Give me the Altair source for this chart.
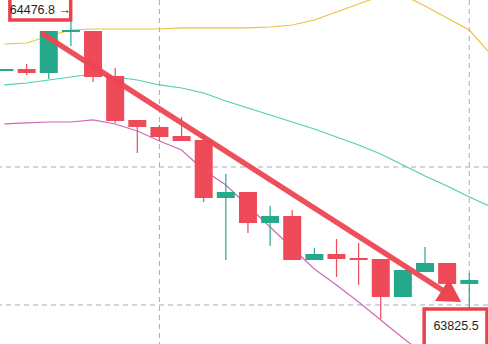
import altair as alt
import pandas as pd

# ---- candle data (price) ----
idx = list(range(22))
opens = [64308.7, 64313.0, 64304.3, 64393.4, 64395.6, 64297.8, 64202.2, 64187.0, 64167.4, 64158.7,
         64032.6, 64045.6, 63978.3, 63993.5, 63897.8, 63910.9, 63902.2, 63900.0, 63817.4, 63871.7,
         63891.3, 63845.7]
highs = [64313.0, 64323.9, 64395.6, 64441.3, 64395.6, 64315.2, 64202.2, 64191.3, 64208.7, 64171.7,
         64084.8, 64045.6, 64015.2, 64006.5, 63923.9, 63943.5, 63934.8, 63900.0, 63876.1, 63926.1,
         63891.3, 63869.6]
lows = [64308.7, 64300.0, 64291.3, 64363.0, 64284.8, 64195.7, 64130.4, 64156.5, 64156.5, 64023.9,
        63897.8, 63956.5, 63928.3, 63897.8, 63897.8, 63860.9, 63843.5, 63769.6, 63817.4, 63871.7,
        63845.7, 63789.1]
closes = [64313.0, 64304.3, 64395.6, 64397.8, 64295.6, 64200.0, 64187.0, 64165.2, 64156.5, 64032.6,
          64045.6, 63978.3, 63993.5, 63897.8, 63910.9, 63900.0, 63897.8, 63817.4, 63876.1, 63891.3,
          63845.7, 63854.3]

# ---- Bollinger bands ----
upper_idx = list(range(23))
upper = [64367.4, 64369.5, 64384.8, 64397.8, 64400.0, 64400.0, 64400.0, 64400.0, 64402.2, 64402.2,
         64402.2, 64402.2, 64404.3, 64408.7, 64419.6, 64436.9, 64454.3, 64471.7, 64473.9, 64450.0,
         64423.9, 64397.8, 64343.5]
mid_idx = list(range(23))
middle = [64278.3, 64282.6, 64289.1, 64295.6, 64302.2, 64295.6, 64289.1, 64278.3, 64271.7, 64260.9,
          64243.5, 64228.3, 64213.0, 64197.8, 64182.6, 64165.2, 64147.8, 64128.3, 64104.3, 64080.4,
          64058.7, 64034.8, 64013.0]
low_idx = list(range(20))
lower = [64193.5, 64195.7, 64197.8, 64197.8, 64202.2, 64193.5, 64178.3, 64156.5, 64136.9, 64093.5,
         64060.9, 64015.2, 63969.6, 63923.9, 63878.3, 63843.5, 63806.5, 63767.4, 63728.3, 63691.3]

# ---- grid ----
grid_x = [7, 21]
grid_y = [63800, 64100]

# ---- annotations ----
arrow_x = [1.66, 20.2]
arrow_p = [64391.3, 63819.5]
arrow_angle = 32
labels = ["64476.8 →", "63825.5"]
label_x = [1.62, 20.4]
label_p = [64441.3, 63754.3]
box_x1 = [0.243, 18.96]
box_x2 = [2.99, 21.8]
box_p1 = [64469.6, 63791.3]
box_p2 = [64419.6, 63708.7]

GREEN = "#26a98b"
RED = "#ef4a5a"

xs = alt.Scale(domain=[0.022, 21.62], nice=False, zero=False)
ys = alt.Scale(domain=[63715.2, 64463.0], nice=False, zero=False)

candles = pd.DataFrame({"i": idx, "o": opens, "h": highs, "l": lows, "c": closes})
candles["dir"] = ["up" if c >= o else "down" for o, c in zip(opens, closes)]
col = alt.Color("dir:N", scale=alt.Scale(domain=["up", "down"], range=[GREEN, RED]), legend=None)

gx = alt.Chart(pd.DataFrame({"x": grid_x})).mark_rule(
    color="#999999", strokeDash=[5, 4], strokeWidth=1, opacity=0.8
).encode(x=alt.X("x:Q", scale=xs, axis=None))
gy = alt.Chart(pd.DataFrame({"y": grid_y})).mark_rule(
    color="#999999", strokeDash=[5, 4], strokeWidth=1, opacity=0.8
).encode(y=alt.Y("y:Q", scale=ys, axis=None))

def band(ix, vals, color):
    return alt.Chart(pd.DataFrame({"i": ix, "v": vals})).mark_line(
        color=color, strokeWidth=1.2, clip=True
    ).encode(x=alt.X("i:Q", scale=xs, axis=None), y=alt.Y("v:Q", scale=ys, axis=None))

up_line = band(upper_idx, upper, "#ebc23e")
mid_line = band(mid_idx, middle, "#4fcfb1")
low_line = band(low_idx, lower, "#cc6ab6")

base = alt.Chart(candles)
wicks = base.mark_rule(strokeWidth=1.2, clip=True).encode(
    x=alt.X("i:Q", scale=xs, axis=None),
    y=alt.Y("l:Q", scale=ys, axis=None), y2="h:Q", color=col)
bodies = base.mark_bar(size=18, clip=True).encode(
    x=alt.X("i:Q", scale=xs, axis=None),
    y=alt.Y("o:Q", scale=ys, axis=None), y2="c:Q", color=col)

arrow_df = pd.DataFrame({"x": arrow_x, "p": arrow_p})
arrow_line = alt.Chart(arrow_df).mark_line(color="#ec4652", strokeWidth=5.5, clip=True, opacity=0.95).encode(
    x=alt.X("x:Q", scale=xs, axis=None), y=alt.Y("p:Q", scale=ys, axis=None))
arrow_head = alt.Chart(arrow_df.iloc[[1]]).mark_point(
    shape="triangle-right", size=680, filled=True, color="#ec4652", opacity=1, angle=arrow_angle
).encode(x=alt.X("x:Q", scale=xs, axis=None), y=alt.Y("p:Q", scale=ys, axis=None))

box_df = pd.DataFrame({"x1": box_x1, "x2": box_x2, "p1": box_p1, "p2": box_p2})
boxes = alt.Chart(box_df).mark_rect(fill="white", stroke="#e8434b", strokeWidth=3.5, clip=True).encode(
    x=alt.X("x1:Q", scale=xs, axis=None), x2="x2:Q",
    y=alt.Y("p1:Q", scale=ys, axis=None), y2="p2:Q")
texts = alt.Chart(pd.DataFrame({"t": labels, "x": label_x, "p": label_p})).mark_text(
    font="Liberation Sans", fontSize=12.5, color="#1e1e1e", align="center", baseline="middle"
).encode(x=alt.X("x:Q", scale=xs, axis=None), y=alt.Y("p:Q", scale=ys, axis=None), text="t:N")

chart = alt.layer(gx, gy, up_line, mid_line, low_line, wicks, bodies, arrow_line, arrow_head, boxes, texts).properties(
    width=488, height=344, padding=0, autosize="none", background="white"
).configure_view(strokeWidth=0)

chart.save("out.html", embed_options={"renderer": "svg", "actions": False})
